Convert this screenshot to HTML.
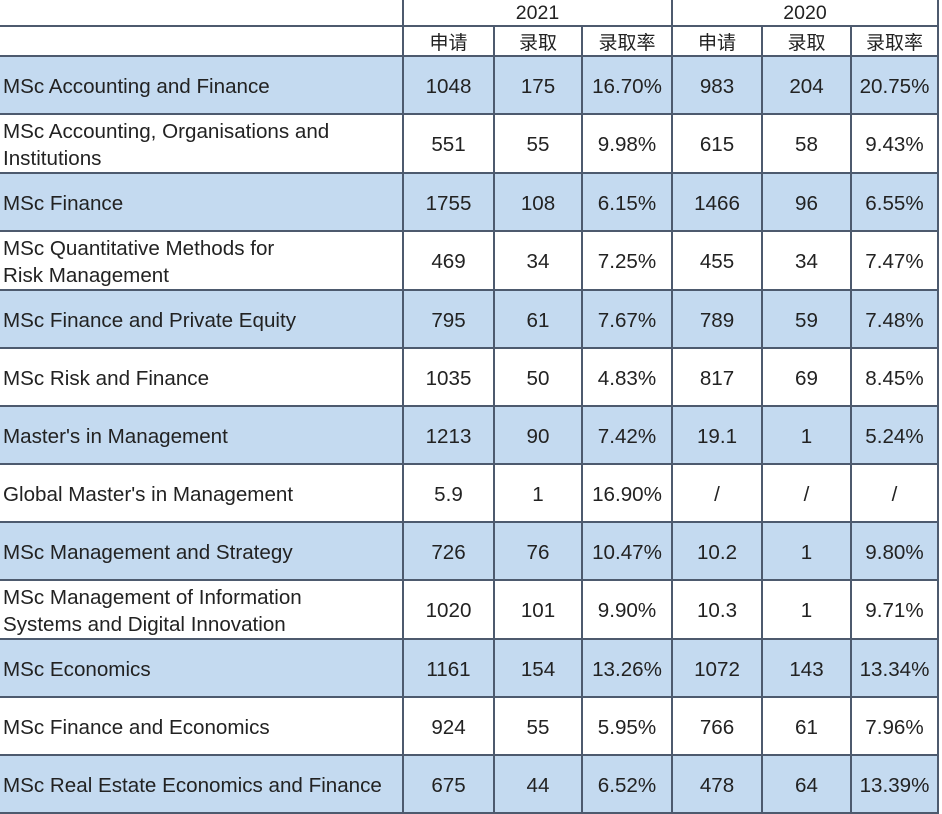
<!DOCTYPE html>
<html><head><meta charset="utf-8"><style>
html,body{margin:0;padding:0;background:#fff;width:942px;height:812px;overflow:hidden}
table{position:absolute;left:0;top:0;border-collapse:collapse;table-layout:fixed;font-family:"Liberation Sans","Noto Sans CJK SC",sans-serif;font-size:20.6px;color:#222}
td{border:2px solid #4d5a6e;padding:0;text-align:center;vertical-align:middle;overflow:hidden;white-space:nowrap}
td.n{text-align:left;padding-left:3px;line-height:27px;border-left:none}
tr.b td{background:#c4daf0}
tr.h1 td{height:24px;padding-top:1px;border-top:none;font-size:19.5px}
tr.h2 td{height:26px;padding-top:1px;font-size:19px}
tr.r td{height:53.05px;padding-top:3px}
</style></head><body>
<table>
<colgroup><col style="width:403px"><col style="width:91px"><col style="width:88px"><col style="width:90px"><col style="width:90px"><col style="width:89px"><col style="width:87px"></colgroup>
<tr class="h1"><td class="n"></td><td colspan="3">2021</td><td colspan="3" style="border-right:2px solid #4d5a6e">2020</td></tr>
<tr class="h2"><td class="n"></td><td>申请</td><td>录取</td><td>录取率</td><td>申请</td><td>录取</td><td>录取率</td></tr>
<tr class="r b"><td class="n">MSc Accounting and Finance</td><td>1048</td><td>175</td><td>16.70%</td><td>983</td><td>204</td><td>20.75%</td></tr>
<tr class="r"><td class="n">MSc Accounting, Organisations and<br>Institutions</td><td>551</td><td>55</td><td>9.98%</td><td>615</td><td>58</td><td>9.43%</td></tr>
<tr class="r b"><td class="n">MSc Finance</td><td>1755</td><td>108</td><td>6.15%</td><td>1466</td><td>96</td><td>6.55%</td></tr>
<tr class="r"><td class="n">MSc Quantitative Methods for<br>Risk Management</td><td>469</td><td>34</td><td>7.25%</td><td>455</td><td>34</td><td>7.47%</td></tr>
<tr class="r b"><td class="n">MSc Finance and Private Equity</td><td>795</td><td>61</td><td>7.67%</td><td>789</td><td>59</td><td>7.48%</td></tr>
<tr class="r"><td class="n">MSc Risk and Finance</td><td>1035</td><td>50</td><td>4.83%</td><td>817</td><td>69</td><td>8.45%</td></tr>
<tr class="r b"><td class="n">Master's in Management</td><td>1213</td><td>90</td><td>7.42%</td><td>19.1</td><td>1</td><td>5.24%</td></tr>
<tr class="r"><td class="n">Global Master's in Management</td><td>5.9</td><td>1</td><td>16.90%</td><td>/</td><td>/</td><td>/</td></tr>
<tr class="r b"><td class="n">MSc Management and Strategy</td><td>726</td><td>76</td><td>10.47%</td><td>10.2</td><td>1</td><td>9.80%</td></tr>
<tr class="r"><td class="n">MSc Management of Information<br>Systems and Digital Innovation</td><td>1020</td><td>101</td><td>9.90%</td><td>10.3</td><td>1</td><td>9.71%</td></tr>
<tr class="r b"><td class="n">MSc Economics</td><td>1161</td><td>154</td><td>13.26%</td><td>1072</td><td>143</td><td>13.34%</td></tr>
<tr class="r"><td class="n">MSc Finance and Economics</td><td>924</td><td>55</td><td>5.95%</td><td>766</td><td>61</td><td>7.96%</td></tr>
<tr class="r b"><td class="n">MSc Real Estate Economics and Finance</td><td>675</td><td>44</td><td>6.52%</td><td>478</td><td>64</td><td>13.39%</td></tr>
</table>
</body></html>
